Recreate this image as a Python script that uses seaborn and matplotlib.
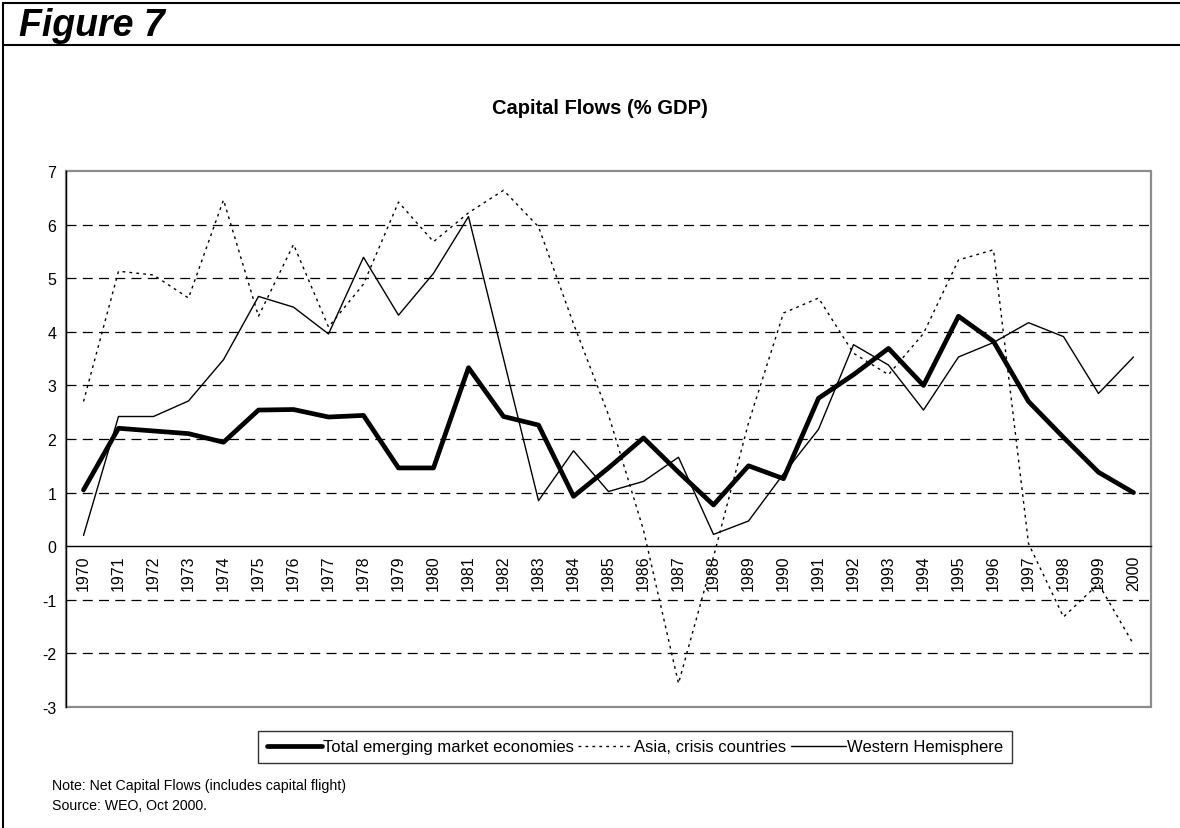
import pandas as pd
import matplotlib.pyplot as plt
import seaborn as sns
from matplotlib.lines import Line2D
from matplotlib.patches import Rectangle

years = list(range(1970, 2001))
total_em = [1.05, 2.2, 2.15, 2.1, 1.94, 2.54, 2.55, 2.41, 2.44, 1.46,
            1.46, 3.33, 2.42, 2.26, 0.93, 1.46, 2.02, 1.38, 0.77, 1.5,
            1.26, 2.76, 3.2, 3.69, 3.0, 4.29, 3.82, 2.7, 2.03, 1.38, 1.0]
asia_crisis = [2.7, 5.13, 5.06, 4.63, 6.46, 4.29, 5.63, 4.09, 4.89, 6.42,
               5.68, 6.22, 6.64, 5.96, 4.15, 2.45, 0.3, -2.56, -0.2, 2.3,
               4.35, 4.63, 3.6, 3.2, 3.97, 5.34, 5.53, 0.05, -1.32, -0.7, -1.83]
west_hemi = [0.2, 2.42, 2.42, 2.71, 3.48, 4.66, 4.46, 3.96, 5.39, 4.31,
             5.09, 6.15, 3.5, 0.85, 1.78, 1.02, 1.21, 1.66, 0.22, 0.47,
             1.35, 2.18, 3.76, 3.38, 2.54, 3.53, 3.8, 4.17, 3.91, 2.85, 3.53]
series_names = ["Total emerging market economies", "Asia, crisis countries",
                "Western Hemisphere"]

df = pd.DataFrame({"year": years, series_names[0]: total_em,
                   series_names[1]: asia_crisis, series_names[2]: west_hemi})
long = df.melt(id_vars="year", var_name="series", value_name="value")

sns.set_style("white")
plt.rcParams["font.family"] = ["Liberation Sans", "DejaVu Sans"]
plt.rcParams["text.color"] = "black"
plt.rcParams["xtick.color"] = "black"
plt.rcParams["ytick.color"] = "black"

fig = plt.figure(figsize=(11.8, 8.29), dpi=100)
ax = fig.add_axes([66 / 1180, 1 - 708 / 829, (1151 - 66) / 1180, (708 - 172) / 829])

# dashed gridlines first so the series sit on top
for v in [1, 2, 3, 4, 5, 6, -1, -2]:
    ax.axhline(v, color="black", lw=0.9, ls=(0, (8, 5)), zorder=1)

styles = {
    series_names[0]: dict(lw=3.4, ls="-"),
    series_names[1]: dict(lw=1.0, ls=(0, (2, 3))),
    series_names[2]: dict(lw=1.0, ls="-"),
}
handles = []
for name in series_names:
    sub = long[long["series"] == name]
    sns.lineplot(data=sub, x="year", y="value", ax=ax, color="black",
                 linewidth=styles[name]["lw"], linestyle=styles[name]["ls"],
                 legend=False, zorder=3)
    handles.append(Line2D([], [], color="black", lw=styles[name]["lw"],
                          ls=styles[name]["ls"]))

ax.set_xlim(1969.5, 2000.5)
ax.set_ylim(-3, 7)
ax.set_xlabel("")
ax.set_ylabel("")

# category axis at zero, ticks between categories
ax.spines["bottom"].set_position(("data", 0))
ax.spines["bottom"].set_color("black")
ax.spines["bottom"].set_linewidth(1.0)
ax.spines["left"].set_color("black")
ax.spines["left"].set_linewidth(1.0)
for s in ["top", "right"]:
    ax.spines[s].set_visible(False)
ax.add_patch(Rectangle((0, 0), 1, 1, transform=ax.transAxes, fill=False,
                       edgecolor="#8c8c8c", lw=1.6, zorder=0, clip_on=False))

ax.set_xticks(years)
ax.set_xticklabels([str(y) for y in years], rotation=90, fontsize=11.5)
ax.set_xticks([y + 0.5 for y in years[:-1]] + [1969.5], minor=True)
ax.tick_params(axis="x", which="major", length=0, pad=6)
ax.tick_params(axis="x", which="minor", length=5, width=1, direction="out",
               color="black")
ax.set_yticks(range(-3, 8))
ax.set_yticklabels([str(v) for v in range(-3, 8)], fontsize=11.5)
ax.tick_params(axis="y", length=4, width=1, direction="out", color="black", pad=3)

fig.text(600 / 1180, 1 - 108 / 829, "Capital Flows (% GDP)", ha="center",
         va="center", fontsize=14.5, fontweight="bold")
fig.text(19 / 1180, 1 - 26 / 829, "Figure 7", ha="left", va="center",
         fontsize=27, fontweight="bold", style="italic")

leg = fig.legend(handles, series_names, loc="center", ncol=3,
                 bbox_to_anchor=(635 / 1180, 1 - 748 / 829), fontsize=12,
                 handlelength=3.3, handletextpad=0.05, columnspacing=0.3,
                 frameon=True, fancybox=False, borderpad=0.5,
                 borderaxespad=0.2)
leg.get_frame().set_edgecolor("black")
leg.get_frame().set_linewidth(1.0)

fig.text(52 / 1180, 1 - 786 / 829, "Note: Net Capital Flows (includes capital flight)",
         fontsize=10.2, va="center")
fig.text(52 / 1180, 1 - 806 / 829, "Source: WEO, Oct 2000.", fontsize=10.2,
         va="center")

# page frame lines
fig.add_artist(Line2D([3 / 1180, 3 / 1180], [0, 1 - 4 / 829], color="black",
                      lw=1.5, transform=fig.transFigure))
fig.add_artist(Line2D([3 / 1180, 1], [1 - 4 / 829, 1 - 4 / 829], color="black",
                      lw=1.5, transform=fig.transFigure))
fig.add_artist(Line2D([3 / 1180, 1], [1 - 46 / 829, 1 - 46 / 829], color="black",
                      lw=1.5, transform=fig.transFigure))

fig.savefig("out.png", dpi=100)
